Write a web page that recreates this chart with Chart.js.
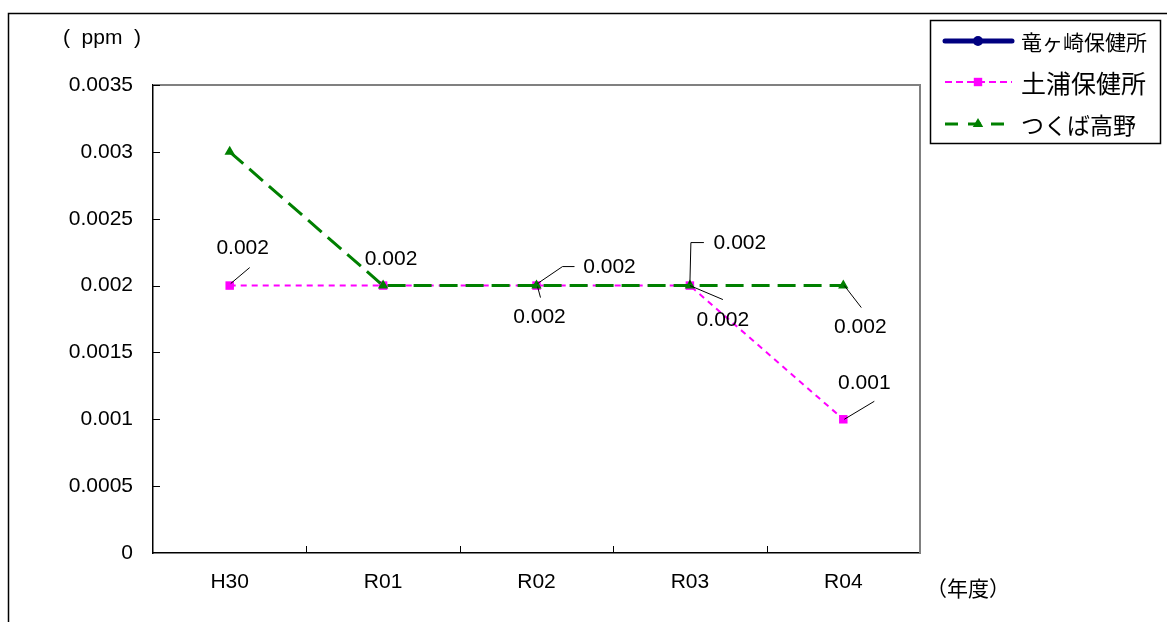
<!DOCTYPE html>
<html>
<head>
<meta charset="utf-8">
<script src="https://cdn.jsdelivr.net/npm/chart.js@4"></script>
<style>
body { margin: 0; background: #fff; }
#wrap { width: 1167px; height: 622px; position: relative; }
</style>
</head>
<body>
<div id="wrap"><canvas id="chart"></canvas></div>
<script>
// data
const years = ['H30', 'R01', 'R02', 'R03', 'R04'];
const ryugasaki = [null, null, null, null, null];
const tsuchiura = [0.002, 0.002, 0.002, 0.002, 0.001];
const tsukuba = [0.003, 0.002, 0.002, 0.002, 0.002];
const seriesNames = ['竜ヶ崎保健所', '土浦保健所', 'つくば高野'];

// where each value label sits relative to its point (null = no label)
const tsuchiuraLabelPos = [
	{dx: 13, dy: -37, leader: [[20, -18], [1, -2]]},
	{dx: 8, dy: -26, leader: null},
	{dx: 73, dy: -18, leader: [[38, -19], [26, -19], [1, -2]]},
	{dx: 50, dy: -42, leader: [[14, -43], [1, -43], [0, -2]]},
	{dx: 21, dy: -36, leader: [[31, -18], [1, 0]]}
];
const tsukubaLabelPos = [
	null,
	null,
	{dx: 3, dy: 32, leader: [[1, 1], [4, 12]]},
	{dx: 33, dy: 35, leader: [[0, 0], [33, 14]]},
	{dx: 17, dy: 42, leader: [[1, 0], [18, 22]]}
];

const numFont = '"Liberation Sans", Arial, sans-serif';
const jpFont = '"Noto Sans CJK JP", sans-serif';

function drawMarker(ctx, style, x, y, r, color) {
	ctx.save();
	ctx.fillStyle = color;
	ctx.beginPath();
	if (style === 'circle') {
		ctx.arc(x, y, r, 0, Math.PI * 2);
	} else if (style === 'rect') {
		ctx.rect(x - r * 0.7, y - r * 0.7, r * 1.4, r * 1.4);
	} else {
		ctx.moveTo(x, y - r);
		ctx.lineTo(x + r * 0.87, y + r * 0.5);
		ctx.lineTo(x - r * 0.87, y + r * 0.5);
		ctx.closePath();
	}
	ctx.fill();
	ctx.restore();
}

const framePlugin = {
	id: 'frame',
	beforeDraw(chart) {
		const ctx = chart.ctx;
		ctx.save();
		ctx.fillStyle = '#fff';
		ctx.fillRect(0, 0, chart.width, chart.height);
		ctx.strokeStyle = '#000';
		ctx.lineWidth = 1.5;
		ctx.beginPath();
		ctx.moveTo(8.5, chart.height);
		ctx.lineTo(8.5, 13.5);
		ctx.lineTo(chart.width, 13.5);
		ctx.stroke();
		ctx.restore();
	},
	afterDraw(chart) {
		const ctx = chart.ctx;
		const a = chart.chartArea;
		const xs = chart.scales.x;
		const ys = chart.scales.y;
		ctx.save();
		// gray top / right edge of plot area
		ctx.strokeStyle = '#808080';
		ctx.lineWidth = 2;
		ctx.beginPath();
		ctx.moveTo(a.left, a.top);
		ctx.lineTo(a.right, a.top);
		ctx.lineTo(a.right, a.bottom);
		ctx.stroke();
		// inward tick marks
		ctx.strokeStyle = '#000';
		ctx.lineWidth = 1;
		ctx.beginPath();
		for (let i = 1; i < years.length; i++) {
			const x = Math.round((xs.getPixelForValue(i - 1) + xs.getPixelForValue(i)) / 2) + 0.5;
			ctx.moveTo(x, a.bottom);
			ctx.lineTo(x, a.bottom - 7);
		}
		ys.ticks.forEach(function(t) {
			if (t.value === 0) return;
			const y = Math.round(ys.getPixelForValue(t.value)) + 0.5;
			ctx.moveTo(a.left, y);
			ctx.lineTo(a.left + 7, y);
		});
		ctx.stroke();
		// axis titles
		ctx.fillStyle = '#000';
		ctx.textAlign = 'center';
		ctx.textBaseline = 'middle';
		ctx.font = '21px ' + numFont;
		ctx.fillText('(  ppm  )', 102, 38);
		ctx.font = '21px ' + jpFont;
		ctx.fillText('（年度）', 968, 588);
		// legend
		ctx.strokeStyle = '#000';
		ctx.lineWidth = 1.5;
		ctx.strokeRect(930.5, 20.5, 230, 123);
		const rows = [41, 82, 124];
		const sizes = [21, 25, 23];
		chart.data.datasets.forEach(function(ds, i) {
			const y = rows[i];
			ctx.save();
			ctx.strokeStyle = ds.borderColor;
			ctx.lineWidth = ds.borderWidth;
			ctx.setLineDash(ds.legendDash || []);
			ctx.lineCap = i === 0 ? 'round' : 'butt';
			ctx.beginPath();
			ctx.moveTo(945, y);
			ctx.lineTo(1012, y);
			ctx.stroke();
			ctx.restore();
			drawMarker(ctx, ds.pointStyle, 978, y, ds.pointRadius, ds.borderColor);
			ctx.fillStyle = '#000';
			ctx.textAlign = 'left';
			ctx.font = sizes[i] + 'px ' + jpFont;
			ctx.fillText(seriesNames[i], 1021, y + 1);
		});
		ctx.restore();
	},
	afterDatasetsDraw(chart) {
		const ctx = chart.ctx;
		ctx.save();
		ctx.font = '21px ' + numFont;
		ctx.textAlign = 'center';
		ctx.textBaseline = 'middle';
		chart.data.datasets.forEach(function(ds, i) {
			if (!ds.labelPos) return;
			const meta = chart.getDatasetMeta(i);
			meta.data.forEach(function(pt, j) {
				const lp = ds.labelPos[j];
				if (!lp || ds.data[j] === null) return;
				if (lp.leader) {
					ctx.strokeStyle = '#000';
					ctx.lineWidth = 1;
					ctx.beginPath();
					lp.leader.forEach(function(p, k) {
						if (k === 0) ctx.moveTo(pt.x + p[0], pt.y + p[1]);
						else ctx.lineTo(pt.x + p[0], pt.y + p[1]);
					});
					ctx.stroke();
				}
				ctx.fillStyle = '#000';
				ctx.fillText(String(ds.data[j]), pt.x + lp.dx, pt.y + lp.dy);
			});
		});
		ctx.restore();
	}
};

const ctx = document.getElementById('chart').getContext('2d');
const chart = new Chart(ctx, {
	type: 'line',
	data: {
		labels: years,
		datasets: [
			{
				label: seriesNames[0],
				data: ryugasaki,
				borderColor: '#000080',
				backgroundColor: '#000080',
				borderWidth: 5,
				pointStyle: 'circle',
				pointRadius: 5,
				order: 0
			},
			{
				label: seriesNames[1],
				data: tsuchiura,
				borderColor: '#FF00FF',
				backgroundColor: '#FF00FF',
				borderWidth: 2,
				borderDash: [6, 5],
				legendDash: [7, 4],
				pointStyle: 'rect',
				pointRadius: 6,
				pointBorderWidth: 0,
				labelPos: tsuchiuraLabelPos,
				order: 2
			},
			{
				label: seriesNames[2],
				data: tsukuba,
				borderColor: '#008000',
				backgroundColor: '#008000',
				borderWidth: 3,
				borderDash: [18, 8],
				legendDash: [13, 10],
				pointStyle: 'triangle',
				pointRadius: 6,
				pointBorderWidth: 0,
				labelPos: tsukubaLabelPos,
				order: 1
			}
		]
	},
	options: {
		responsive: true,
		maintainAspectRatio: false,
		animation: false,
		devicePixelRatio: 1,
		layout: {padding: {left: 0, top: 85, right: 247, bottom: 0}},
		plugins: {
			legend: {display: false},
			tooltip: {enabled: false}
		},
		elements: {line: {tension: 0, fill: false}},
		scales: {
			x: {
				offset: true,
				grid: {display: false},
				border: {color: '#000', width: 1.5},
				ticks: {color: '#000', font: {family: numFont, size: 21}, padding: 9, maxRotation: 0},
				afterFit: function(s) { s.height = 69; }
			},
			y: {
				min: 0,
				max: 0.0035,
				grid: {display: false},
				border: {color: '#000', width: 1.5},
				ticks: {
					stepSize: 0.0005,
					color: '#000',
					font: {family: numFont, size: 21},
					padding: 12,
					callback: function(v) { return String(Number(v.toFixed(4))); }
				},
				afterFit: function(s) { s.width = 153; }
			}
		}
	},
	plugins: [framePlugin]
});
</script>
</body>
</html>
